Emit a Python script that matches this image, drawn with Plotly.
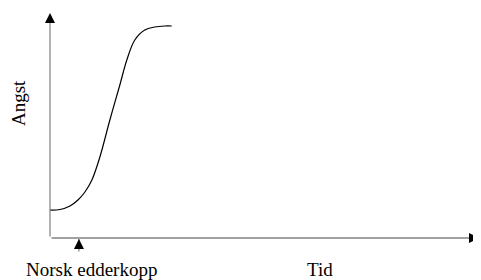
import plotly.graph_objects as go

# Curve data (time, anxiety) in arbitrary units
time = [0, 10, 20, 28, 35, 42, 50, 60, 70, 77, 85, 95, 105, 115, 122]
angst = [28, 28.5, 32, 38, 46, 58, 81, 118, 153, 178, 198, 208, 211, 212, 212]

x_label = "Tid"
y_label = "Angst"
event_label = "Norsk edderkopp"
event_time = 29

x_max = 431
y_max = 225

fig = go.Figure()
fig.add_trace(go.Scatter(
    x=time, y=angst, mode="lines",
    line=dict(color="black", width=1.2, shape="spline", smoothing=1.0),
    hoverinfo="skip", showlegend=False,
))

font = dict(family="Liberation Serif, Times New Roman, serif", size=19, color="black")
axis_col = "#666666"
head = dict(text="", showarrow=True, arrowhead=2, arrowsize=2.0, arrowwidth=1,
            arrowcolor="black", standoff=0)

annotations = [
    # x axis line
    dict(x=x_max - 2, y=0, ax=0, ay=0, xref="x", yref="y", axref="x", ayref="y",
         text="", showarrow=True, arrowhead=0, arrowwidth=1, arrowcolor="#444444", standoff=0),
    dict(x=x_max - 1, y=0, ax=-8, ay=0, xref="x", yref="y", axref="pixel", ayref="pixel", **head),
    # y axis line
    dict(x=0, y=y_max - 2, ax=0, ay=0, xref="x", yref="y", axref="x", ayref="y",
         text="", showarrow=True, arrowhead=0, arrowwidth=1, arrowcolor=axis_col, standoff=0),
    dict(x=0, y=y_max, ax=0, ay=8, xref="x", yref="y", axref="pixel", ayref="pixel", **head),
    # event marker arrow
    dict(x=event_time, y=-1 / y_max, xref="x", yref="paper", ax=0, ay=14,
         axref="pixel", ayref="pixel",
         text="", showarrow=True, arrowhead=0, arrowwidth=1, arrowcolor=axis_col, standoff=0),
    dict(x=event_time, y=-1 / y_max, xref="x", yref="paper", ax=0, ay=7,
         axref="pixel", ayref="pixel", **head),
    dict(x=42, y=-31 / y_max, xref="x", yref="paper", text=event_label, showarrow=False,
         font=font, xanchor="center", yanchor="middle"),
    dict(x=271, y=-31 / y_max, xref="x", yref="paper", text=x_label, showarrow=False,
         font=font, xanchor="center", yanchor="middle"),
    dict(x=-32 / x_max, y=135, xref="paper", yref="y", text=y_label, showarrow=False,
         font=font, textangle=-90, xanchor="center", yanchor="middle"),
]

fig.update_layout(
    width=473, height=272,
    margin=dict(l=42, r=1, t=5, b=42),
    paper_bgcolor="white", plot_bgcolor="white",
    xaxis=dict(range=[0, x_max], visible=False, fixedrange=True),
    yaxis=dict(range=[0, y_max], visible=False, fixedrange=True),
    annotations=annotations,
    showlegend=False,
)

fig.write_html("out.html")
